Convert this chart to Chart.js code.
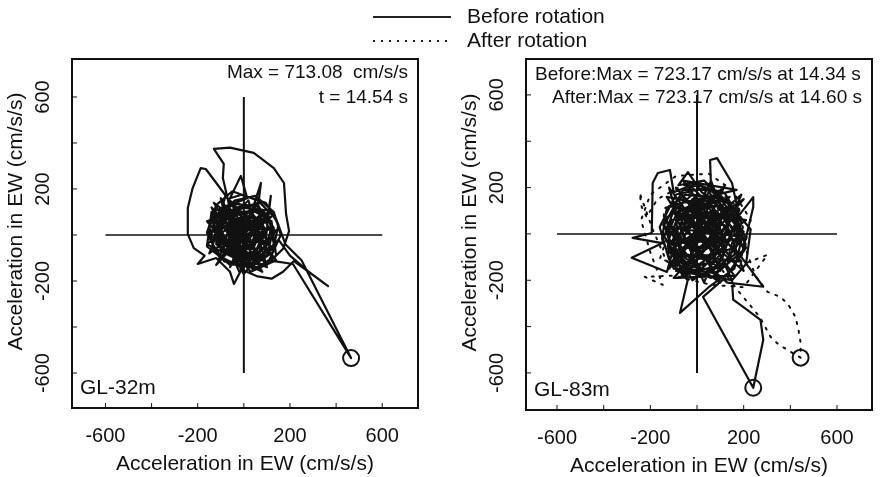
<!DOCTYPE html>
<html>
<head>
<meta charset="utf-8">
<script src="https://cdn.jsdelivr.net/npm/chart.js@4.4.1/dist/chart.umd.min.js"></script>
<style>
body { margin:0; background:#fff; width:883px; height:477px; overflow:hidden; position:relative; font-family:"Liberation Sans", Arial, sans-serif; }
#left { position:absolute; left:0; top:0; }
#right { position:absolute; left:440px; top:0; }
.legend { position:absolute; left:373px; font-size:21px; color:#111; line-height:21px; white-space:nowrap; }
.legend .ln { display:inline-block; width:78px; height:2px; vertical-align:middle; margin-right:16px; background:#222; }
.legend .ln.dot { background:repeating-linear-gradient(to right, #222 0 2px, transparent 2px 8px); }
</style>
</head>
<body>
<canvas id="left" width="440" height="477"></canvas>
<canvas id="right" width="443" height="477"></canvas>
<div class="legend" style="top:5px"><span class="ln"></span>Before rotation</div>
<div class="legend" style="top:29px"><span class="ln dot"></span>After rotation</div>
<script>
// axis decorations
const tickMarks = [-600, -400, -200, 0, 200, 400, 600];
const tickLabels = [-600, -200, 200, 600];
const crossLine = [-600, 600];

// GL-32m orbit (cm/s/s)
const gl32Path = [
  [0,0],[25,-20],[-15,30],[40,15],[-30,-25],[20,45],[-45,10],[35,-40],[55,35],[-25,65],[-65,-5],[10,-65],
  [75,-15],[45,75],[-75,45],[-55,-65],[45,-85],[95,25],[25,105],[-95,65],[-105,-45],[-20,-115],[85,-95],
  [115,15],[65,125],[-45,135],[-125,85],[-145,-25],[-85,-115],[30,-140],[125,-75],[150,45],[95,140],
  [-10,175],[-60,160],[-13,257],[15,160],[-90,120],[-150,40],[-130,-70],[-60,-130],[50,-120],[130,-40],
  [110,70],[40,120],[74,226],[60,110],[-30,90],[-100,20],[-80,-80],[0,-100],[90,-60],[117,170],[100,60],
  [20,60],[-60,30],[-40,-50],[40,-60],[70,10],[10,50],[-100,200],[-165,287],[-187,291],[-222,204],
  [-243,117],[-243,4],[-217,-57],[-170,-90],[-200,-126],[-120,-100],[-60,-160],[-43,-213],[-10,-150],
  [60,-180],[120,-190],[170,-160],[217,-113],[365,-222],[278,-157],[200,-90],[150,-20],[80,-110],
  [-20,-70],[-90,40],[-60,130],[10,90],[60,-30],[0,-50],[-50,70],[-91,248],[-87,309],[-130,374],
  [-60,380],[43,357],[130,291],[174,226],[183,91],[196,17],[170,-60],[100,-130],[0,-120],[-110,-50],
  [-130,60],[-40,150],[50,170],[130,100],[160,0],[110,-110],[213,-126],[465,-535],[250,-110],[180,-40],
  [140,70],[60,150],[-50,190],[-120,130],[-160,10],[-110,-90],[-10,-140],[100,-90],[130,30],[80,110],
  [-20,120],[-110,60],[-120,-40],[-50,-90],[50,-80],[90,0],[40,80],[-50,70],[-80,-20],[-20,-70],
  [50,-30],[30,40],[-30,30],[-20,-20],[20,-10],[-70,110],[-130,20],[-90,-70],[20,-90],[100,-20],
  [70,90],[-30,140],[-140,100],[-160,-50],[-70,-120],[60,-140],[140,-90],[120,60],[0,130],[-100,90],
  [-110,-10],[-30,-100],[70,-70],[80,40],[-10,70],[-60,-10],[10,-40],
  [-140,120],[-20,-160],[110,-30],[-60,150],[-150,-80],[90,100],[-120,-130],[60,140],[-160,60],
  [30,-160],[140,-110],[-80,170],[-130,-20],[100,-140],[20,150],[-150,0],[70,-100],[-40,100],
  [-110,-110],[120,80],[-90,-30],[40,-150],[-130,140],[130,-60],[-30,-130],[-100,160],[80,-160],
  [-160,-40],[50,120],[-60,-140],[110,110],[-140,90],[0,-170],[140,20],[-70,40],[30,-20],[-50,-40],
  [60,60],[-120,30],[10,-110],[-80,100],[90,-120],[-20,40],[40,-100],[-100,-60],[80,70],[-50,10],
  [20,-60],[-30,60],[60,20],[0,0]
];
const gl32Max = [[465, -535]];

// GL-83m orbits
const gl83Before = [
  [0,0],[30,-25],[-20,35],[50,20],[-40,-30],[25,55],[-55,15],[45,-50],[70,40],[-30,80],[-80,-10],[15,-80],
  [95,-20],[60,95],[-90,60],[-70,-85],[55,-105],[120,30],[35,130],[-110,85],[-125,-55],[-25,-140],
  [105,-115],[150,20],[85,155],[-50,170],[-130,110],[-150,-20],[-100,-150],[40,-175],[160,-90],[190,50],
  [120,175],[-10,215],[-100,180],[-116,276],[-168,263],[-190,220],[-194,4],[-276,-17],[-150,-40],
  [-280,-103],[-129,-164],[-100,-60],[-20,-200],[60,-150],[130,-210],[284,-228],[190,-100],[241,116],
  [241,159],[180,80],[150,220],[86,327],[56,319],[60,200],[20,120],[-60,140],[-110,40],[-80,-120],
  [10,-130],[110,-60],[140,80],[40,160],[-70,100],[-120,-20],[-40,-150],[80,-170],[180,-40],[150,120],
  [30,230],[-80,210],[-39,267],[20,180],[100,130],[200,10],[160,-150],[50,-230],[-73,-341],[-40,-200],
  [-120,-110],[-160,30],[-90,170],[40,200],[160,110],[210,-60],[120,-190],[26,-272],[241,-664],
  [284,-457],[272,-371],[215,-328],[155,-284],[150,-200],[210,-130],[230,20],[120,150],[-20,170],
  [-130,70],[-110,-90],[0,-180],[130,-130],[180,20],[100,120],[-30,120],[-100,30],[-70,-80],[30,-110],
  [110,-40],[90,70],[0,90],[-70,20],[-40,-60],[40,-60],[70,10],[20,60],[-40,30],[-20,-30],[30,-20],
  [-90,130],[-140,-10],[-60,-170],[90,-140],[170,60],[70,190],[-60,190],[-140,40],[-90,-130],[60,-190],
  [200,-70],[130,140],[-20,150],[-120,-60],[20,-150],[150,-20],[60,120],[-80,60],
  [-120,200],[160,-180],[-100,-190],[200,150],[-130,-80],[190,-120],[-60,230],[170,190],[-120,120],
  [210,60],[-90,-160],[150,-200],[-40,220],[200,-20],[-110,-40],[120,210],[-70,-190],[180,100],
  [-130,160],[100,-210],[-30,-120],[160,-60],[-80,80],[140,160],[-120,-150],[60,230],[200,-160],
  [-100,100],[30,-210],[190,170],[-60,-60],[90,40],[-20,120],[150,-110],[-90,200],[110,-30],[0,-150],
  [-130,30],[170,-10],[40,200],[-50,-190],[120,90],[-100,-100],[80,-90],[-60,110],[130,30],[-20,-80],
  [60,150],[-110,0],[100,-150],[10,20]
];
const gl83After = [
  [0,0],[-40,30],[50,-30],[-60,-40],[40,60],[80,-10],[-20,-80],[-90,20],[10,90],[100,40],[60,-90],
  [-70,-100],[-120,50],[-30,130],[90,110],[140,-20],[70,-130],[-60,-150],[-150,-30],[-140,110],
  [-20,170],[110,150],[170,30],[130,-110],[0,-170],[-130,-120],[-190,20],[-246,177],[-237,116],
  [-216,73],[-170,150],[-60,210],[80,200],[180,110],[210,-40],[150,-150],[302,-90],[200,-230],
  [60,-220],[-100,-180],[-224,-185],[-147,-220],[-200,-80],[-240,60],[-200,170],[-90,250],[50,260],
  [150,190],[230,60],[200,-70],[100,-160],[-20,-140],[-160,-110],[-110,40],[-40,180],[60,150],
  [160,70],[250,-180],[302,-250],[358,-272],[392,-306],[422,-358],[435,-414],[444,-470],[444,-534],
  [350,-478],[315,-444],[270,-360],[180,-250],[80,-120],[-30,-60],[20,60]
];
const gl83BeforeMax = [[241, -664]];
const gl83AfterMax = [[444, -534]];

const pts = arr => arr.map(p => ({ x: p[0], y: p[1] }));

const framePlugin = {
  id: 'frame',
  afterDatasetsDraw(chart, args, opts) {
    const { ctx, chartArea: a, scales: { x, y } } = chart;
    ctx.save();
    ctx.strokeStyle = '#111';
    ctx.fillStyle = '#111';
    ctx.lineWidth = 2;
    ctx.strokeRect(a.left, a.top, a.right - a.left, a.bottom - a.top);

    ctx.lineWidth = 1;
    tickMarks.forEach(v => {
      const px = x.getPixelForValue(v), py = y.getPixelForValue(v);
      ctx.beginPath();
      ctx.moveTo(px, a.bottom); ctx.lineTo(px, a.bottom - 5);
      ctx.moveTo(a.left, py); ctx.lineTo(a.left + 5, py);
      ctx.stroke();
    });

    ctx.textAlign = 'center';
    ctx.textBaseline = 'middle';
    ctx.font = '20px "Liberation Sans"';
    tickLabels.forEach(v => {
      ctx.fillText(String(v), x.getPixelForValue(v), a.bottom + 28);
      ctx.save();
      ctx.translate(a.left - 29, y.getPixelForValue(v));
      ctx.rotate(-Math.PI / 2);
      ctx.fillText(String(v), 0, 0);
      ctx.restore();
    });

    ctx.font = '21px "Liberation Sans"';
    ctx.fillText('Acceleration in EW (cm/s/s)', (a.left + a.right) / 2, a.bottom + 56);
    ctx.save();
    ctx.translate(a.left - 56, (a.top + a.bottom) / 2 - 12);
    ctx.rotate(-Math.PI / 2);
    ctx.fillText('Acceleration in EW (cm/s/s)', 0, 0);
    ctx.restore();

    // notes inside the box
    ctx.font = '19px "Liberation Sans"';
    opts.notes.forEach(n => {
      ctx.textAlign = n.align;
      ctx.fillText(n.text, n.align === 'right' ? a.right - 10 : a.left + n.dx, a.top + n.dy);
    });
    ctx.textAlign = 'left';
    ctx.font = '21px "Liberation Sans"';
    ctx.fillText(opts.label, a.left + 8, a.bottom - 20);
    ctx.restore();
  }
};

function lineSet(data, extra) {
  return Object.assign({
    data: pts(data),
    showLine: true,
    borderColor: '#111',
    borderWidth: 2.2,
    pointRadius: 0,
    tension: 0,
    borderJoinStyle: 'round'
  }, extra || {});
}

function maxSet(data) {
  return {
    data: pts(data),
    showLine: false,
    pointRadius: 8,
    pointBorderWidth: 2,
    pointBorderColor: '#111',
    pointBackgroundColor: 'rgba(0,0,0,0)'
  };
}

function crossSets() {
  return [
    lineSet([[crossLine[0], 0], [crossLine[1], 0]], { borderWidth: 1.5 }),
    lineSet([[0, crossLine[0]], [0, crossLine[1]]], { borderWidth: 2 })
  ];
}

function makeChart(id, datasets, range, padding, frameOpts) {
  return new Chart(document.getElementById(id), {
    type: 'scatter',
    data: { datasets: datasets },
    options: {
      responsive: false,
      animation: false,
      layout: { padding: padding },
      plugins: { legend: { display: false }, tooltip: { enabled: false }, frame: frameOpts },
      scales: {
        x: { type: 'linear', display: false, min: range.x[0], max: range.x[1] },
        y: { type: 'linear', display: false, min: range.y[0], max: range.y[1] }
      }
    },
    plugins: [framePlugin]
  });
}

makeChart('left',
  crossSets().concat([lineSet(gl32Path), maxSet(gl32Max)]),
  { x: [-745, 755], y: [-752, 765] },
  { left: 72, right: 22, top: 59, bottom: 69 },
  {
    label: 'GL-32m',
    notes: [
      { text: 'Max = 713.08  cm/s/s', align: 'right', dy: 14 },
      { text: 't = 14.54 s', align: 'right', dy: 39 }
    ]
  });

makeChart('right',
  crossSets().concat([
    lineSet(gl83After, { borderDash: [2, 7], borderWidth: 2, borderCapStyle: 'round' }),
    lineSet(gl83Before),
    maxSet(gl83BeforeMax),
    maxSet(gl83AfterMax)
  ]),
  { x: [-733, 750], y: [-760, 755] },
  { left: 86, right: 11, top: 59, bottom: 67 },
  {
    label: 'GL-83m',
    notes: [
      { text: 'Before:Max = 723.17 cm/s/s at 14.34 s', align: 'left', dx: 9, dy: 16 },
      { text: 'After:Max = 723.17 cm/s/s at 14.60 s', align: 'right', dy: 39 }
    ]
  });
</script>
</body>
</html>
